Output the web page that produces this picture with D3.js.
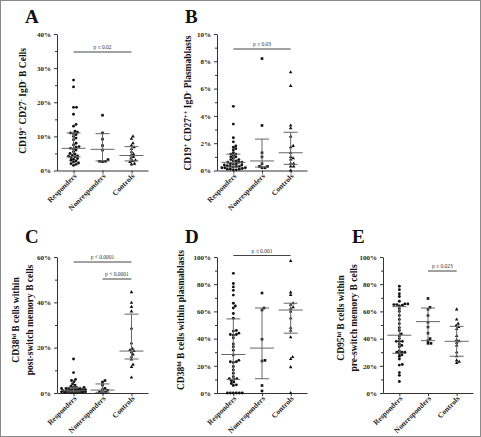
<!DOCTYPE html>
<html>
<head>
<meta charset="utf-8">
<script src="https://cdn.jsdelivr.net/npm/d3@7"></script>
<style>
  body { margin: 0; background: #fff; }
  svg text { font-family: 'Liberation Serif', 'DejaVu Serif', serif; font-weight: bold; }
</style>
</head>
<body>
<div id="chart"></div>
<script>
// groups on every x axis
const groups = ['Responders', 'Nonresponders', 'Controls'];

// A: CD19+ CD27- IgD- B cells (%)
const respondersA    = [26.5, 24.5, 18.5, 18.5, 16.5, 13.5, 13, 11.5, 11.2, 11, 10.8, 10.5, 10, 9.5, 9, 8, 7.5, 7, 6.8, 6.5, 6.3, 6, 5.5, 5, 4.8, 4.5, 4.3, 4.2, 4, 3.8, 3.5, 3.3, 3, 2.8, 2.5, 2.2, 2, 1.8, 1.5];
const nonrespondersA = [16.2, 11, 9.2, 7.3, 6, 3.2, 2.7, 2.7, 2.6];
const controlsA      = [10, 9.3, 8, 7.3, 6.8, 6.3, 5.5, 4.8, 4.4, 4, 3.5, 3, 2.8, 2.5, 2, 1.8];
const medianA = [6.5, 6.2, 4.4];
const q1A     = [4.0, 2.8, 2.8];
const q3A     = [11.0, 10.8, 7.0];

// B: CD19+ CD27++ IgD- plasmablasts (%)
const respondersB    = [4.7, 3.4, 2.4, 2.1, 1.8, 1.7, 1.6, 1.5, 1.3, 1.2, 1.2, 1.1, 1.0, 1.0, 0.9, 0.8, 0.8, 0.7, 0.7, 0.6, 0.6, 0.6, 0.5, 0.5, 0.45, 0.4, 0.4, 0.35, 0.3, 0.3, 0.3, 0.25, 0.2, 0.2, 0.2, 0.15, 0.1, 0.1, 0.1, 0.05, 0.05];
const nonrespondersB = [8.2, 3.3, 1.3, 1.0, 0.5, 0.3, 0.3, 0.2, 0.2];
const controlsB      = [7.2, 6.2, 3.3, 3.1, 2.5, 1.8, 1.7, 1.3, 1.0, 0.9, 0.8, 0.5, 0.5, 0.3, 0.3, 0.0];
const medianB = [0.6, 0.7, 1.3];
const q1B     = [0.25, 0.25, 0.45];
const q3B     = [1.2, 2.3, 2.8];

// C: CD38hi within post-switch memory B cells (%)
const respondersC    = [15, 9, 6, 5.5, 5, 4, 3.5, 3, 2.5, 2.5, 2.5, 2, 2, 2, 2, 1.5, 1.5, 1.5, 1.5, 1.5, 1, 1, 1, 1, 1, 1, 0.8, 0.8, 0.8, 0.8, 0.5, 0.5, 0.5, 0.5, 0.5, 0.3, 0.3, 0.3, 0.3, 0.1, 0.1, 0.1];
const nonrespondersC = [5.5, 4.8, 3.5, 2, 1.5, 1.2, 0.5, 0.3, 0.2];
const controlsC      = [44.5, 39.8, 38, 36, 28.5, 22, 19.5, 19, 18.5, 18, 17, 16, 14.8, 12.5, 11.5, 6.8];
const medianC = [1.0, 1.3, 18.5];
const q1C     = [0.5, 0.3, 15.0];
const q3C     = [2.5, 4.0, 34.8];

// D: CD38hi within plasmablasts (%)
const respondersD    = [88, 80.5, 78, 75.5, 72, 66, 64, 62.5, 58.5, 55, 46, 45.5, 44, 43, 43, 42.5, 40.5, 36, 34, 31.5, 28, 24, 23, 23, 22.5, 19.5, 17, 14.5, 12, 10.5, 10.5, 10, 9, 8, 7, 6, 5.5, 0, 0, 0, 0, 0, 0];
const nonrespondersD = [73.5, 62.5, 61, 39.5, 24, 23.5, 5.5, 1.5];
const controlsD      = [97, 74, 72, 66, 65, 63, 62, 60, 55, 48, 46, 41, 26.5, 25, 19, 0];
const medianD = [28.3, 33, 61];
const q1D     = [10, 10.5, 44];
const q3D     = [54.5, 62.5, 66];

// E: CD95hi within pre-switch memory B cells (%)
const respondersE    = [78.5, 76, 73, 71, 67.5, 65.5, 65.5, 65, 65, 64.5, 64, 62, 60, 57, 54, 51, 48, 46, 43.5, 42, 40, 38, 38, 38, 36, 35, 34, 31, 30, 30, 30, 29, 28, 27, 25, 21, 20.5, 15, 13, 8.5];
const nonrespondersE = [69.5, 63, 61.5, 57, 52, 48.5, 44, 40, 38.5, 36.5, 36.5];
const controlsE      = [61.5, 54, 51, 49.5, 48.5, 47, 42, 39, 38, 37, 35, 30, 27, 24, 23, 22];
const medianE = [42.5, 52.5, 38];
const q1E     = [29.2, 38.5, 27];
const q3E     = [63.5, 62.5, 49];

// axis tops and ticks
const yMax        = [40, 10, 60, 100, 100];
const majorStep   = [10, 2, 20, 20, 20];
const panelLetter = ['A', 'B', 'C', 'D', 'E'];

// y axis titles: each line is a list of [text, superscript?]
const titleA = [[['CD19', 0], ['+', 1], [' CD27', 0], ['-', 1], [' IgD', 0], ['-', 1], [' B Cells', 0]]];
const titleB = [[['CD19', 0], ['+', 1], [' CD27', 0], ['++', 1], [' IgD', 0], ['-', 1], [' Plasmablasts', 0]]];
const titleC = [[['CD38', 0], ['hi', 1], [' B cells within', 0]], [['post-switch memory B cells', 0]]];
const titleD = [[['CD38', 0], ['hi', 1], [' B cells within plasmablasts', 0]]];
const titleE = [[['CD95', 0], ['hi', 1], [' B cells within', 0]], [['pre-switch memory B cells', 0]]];

// p value brackets: [from group, to group, label]
const pA = [['Responders', 'Controls', 'p \u2264 0.02']];
const pB = [['Responders', 'Controls', 'p \u2264 0.03']];
const pC = [['Responders', 'Controls', 'p < 0.0001'], ['Nonresponders', 'Controls', 'p < 0.0001']];
const pD = [['Responders', 'Controls', 'p \u2264 0.001']];
const pE = [['Nonresponders', 'Controls', 'p \u2264 0.023']];

const width  = 481;
const height = 437;

const panels = [
  {values: [respondersA, nonrespondersA, controlsA], med: medianA, q1: q1A, q3: q3A, title: titleA, p: pA,
   x0: 57, x1: 148, yBottom: 170.5, yTop: 34, letter: [25, 23], titleX: [26], titleY: 101, pY: [52]},
  {values: [respondersB, nonrespondersB, controlsB], med: medianB, q1: q1B, q3: q3B, title: titleB, p: pB,
   x0: 217, x1: 307, yBottom: 170.5, yTop: 34, letter: [185, 23], titleX: [191], titleY: 103, pY: [49]},
  {values: [respondersC, nonrespondersC, controlsC], med: medianC, q1: q1C, q3: q3C, title: titleC, p: pC,
   x0: 57, x1: 148, yBottom: 393, yTop: 257, letter: [25, 243], titleX: [19, 33], titleY: 320, pY: [262, 279]},
  {values: [respondersD, nonrespondersD, controlsD], med: medianD, q1: q1D, q3: q3D, title: titleD, p: pD,
   x0: 217, x1: 307, yBottom: 393, yTop: 257, letter: [185, 243], titleX: [184], titleY: 320, pY: [255.5]},
  {values: [respondersE, nonrespondersE, controlsE], med: medianE, q1: q1E, q3: q3E, title: titleE, p: pE,
   x0: 383, x1: 473, yBottom: 393, yTop: 257, letter: [352, 243], titleX: [344, 357], titleY: 318, pY: [271]}
];

const svg = d3.select('#chart')
  .append('svg')
  .attr('width', width)
  .attr('height', height);

// figure frame
svg.append('rect')
  .attr('x', 0.5).attr('y', 0.5)
  .attr('width', width - 1).attr('height', height - 1)
  .attr('fill', 'none')
  .attr('stroke', '#8a8a8a');

// place dots of one column so they don't sit on top of each other
function swarm(vals, y, cx) {
  const d = 2.7, maxOff = 12;
  const placed = [];
  const sorted = vals.slice().sort((a, b) => a - b);
  sorted.forEach(v => {
    const py = y(v);
    let best = null, bestGap = -1;
    for (let k = 0; k <= maxOff / 0.5; k++) {
      const offs = k === 0 ? [0] : [k * 0.5, -k * 0.5];
      for (const o of offs) {
        let gap = Infinity;
        placed.forEach(p => {
          const dist = Math.hypot(p.x - (cx + o), p.y - py);
          if (dist < gap) gap = dist;
        });
        if (gap >= d) { best = o; bestGap = Infinity; break; }
        if (gap > bestGap) { bestGap = gap; best = o; }
      }
      if (bestGap === Infinity) break;
    }
    placed.push({x: cx + best, y: py, v: v});
  });
  return placed;
}

const shapes = [d3.symbolCircle, d3.symbolSquare, d3.symbolTriangle];
const shapeSize = [6.5, 7, 5.5];

panels.forEach((p, i) => {
  const g = svg.append('g');

  const x = d3.scalePoint()
    .domain(groups)
    .range([p.x0, p.x1])
    .padding(0.57);

  const y = d3.scaleLinear()
    .domain([0, yMax[i]])
    .range([p.yBottom, p.yTop]);

  const major = d3.range(0, yMax[i] + 0.001, majorStep[i]);
  const minor = d3.range(majorStep[i] / 2, yMax[i], majorStep[i]);

  // minor ticks
  g.append('g')
    .attr('transform', `translate(${p.x0}, 0)`)
    .call(d3.axisLeft(y).tickValues(minor).tickSize(2).tickFormat(''))
    .call(a => a.select('.domain').remove())
    .call(a => a.selectAll('line').attr('stroke', '#333'));

  // y axis
  g.append('g')
    .attr('transform', `translate(${p.x0}, 0)`)
    .call(d3.axisLeft(y).tickValues(major).tickSize(3).tickSizeOuter(0).tickPadding(3).tickFormat(d => d + '%'))
    .call(a => a.select('.domain').attr('stroke', '#333'))
    .call(a => a.selectAll('line').attr('stroke', '#333'))
    .call(a => a.selectAll('text').style('font-size', '7px').attr('fill', '#222'));

  // x axis
  g.append('g')
    .attr('transform', `translate(0, ${p.yBottom})`)
    .call(d3.axisBottom(x).tickSize(3).tickSizeOuter(0))
    .call(a => a.select('.domain').attr('stroke', '#333'))
    .call(a => a.selectAll('line').attr('stroke', '#333'))
    .call(a => a.selectAll('text')
      .style('font-size', '7.5px')
      .attr('fill', '#222')
      .attr('text-anchor', 'end')
      .attr('dy', 0)
      .attr('y', 0)
      .attr('transform', 'translate(3, 6) rotate(-45)'));

  // dots
  groups.forEach((grp, j) => {
    const pts = swarm(p.values[j], y, x(grp));
    g.selectAll(null)
      .data(pts)
      .enter()
      .append('path')
      .attr('d', d3.symbol().type(shapes[j]).size(shapeSize[j]))
      .attr('transform', d => `translate(${d.x}, ${d.y})`)
      .attr('fill', '#111');
  });

  // median + interquartile range
  groups.forEach((grp, j) => {
    const cx = x(grp);
    const lines = [
      [cx - 12, y(p.med[j]), cx + 12, y(p.med[j])],
      [cx - 7, y(p.q1[j]), cx + 7, y(p.q1[j])],
      [cx - 7, y(p.q3[j]), cx + 7, y(p.q3[j])],
      [cx, y(p.q1[j]), cx, y(p.q3[j])]
    ];
    g.selectAll(null)
      .data(lines)
      .enter()
      .append('line')
      .attr('x1', d => d[0]).attr('y1', d => d[1])
      .attr('x2', d => d[2]).attr('y2', d => d[3])
      .attr('stroke', '#666')
      .attr('stroke-width', 1);
  });

  // p value brackets
  p.p.forEach((b, k) => {
    g.append('line')
      .attr('x1', x(b[0])).attr('x2', x(b[1]))
      .attr('y1', p.pY[k]).attr('y2', p.pY[k])
      .attr('stroke', '#444')
      .attr('stroke-width', 1);
    g.append('text')
      .attr('x', (x(b[0]) + x(b[1])) / 2)
      .attr('y', p.pY[k] - 3)
      .attr('text-anchor', 'middle')
      .style('font-size', '5.5px')
      .style('font-weight', 'normal')
      .attr('fill', '#333')
      .text(b[2]);
  });

  // y axis title
  p.title.forEach((line, k) => {
    const t = g.append('text')
      .attr('transform', `translate(${p.titleX[k]}, ${p.titleY}) rotate(-90)`)
      .attr('text-anchor', 'middle')
      .style('font-size', '9.5px')
      .attr('fill', '#111');
    let raised = false;
    line.forEach(part => {
      const ts = t.append('tspan').text(part[0]);
      if (part[1] && !raised) { ts.attr('dy', -3.5).style('font-size', '6.5px'); raised = true; }
      else if (!part[1] && raised) { ts.attr('dy', 3.5); raised = false; }
    });
  });

  // panel letter
  g.append('text')
    .attr('x', p.letter[0])
    .attr('y', p.letter[1])
    .style('font-size', '19px')
    .attr('fill', '#111')
    .text(panelLetter[i]);
});
</script>
</body>
</html>
